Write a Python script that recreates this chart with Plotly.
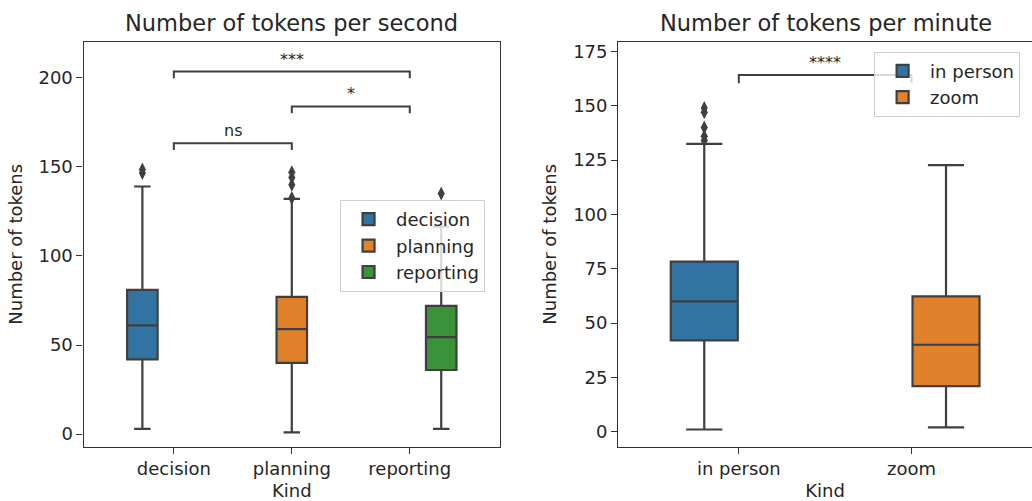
import plotly.graph_objects as go

# ---------------- data ----------------
kinds1 = ["decision", "planning", "reporting"]
lowfence1 = [3, 1, 3]
q1_1 = [42, 40, 36]
med1 = [61, 59, 54.5]
q3_1 = [81, 77, 72]
upfence1 = [139, 132, 116.5]
outliers1 = [[146.5, 148.5], [132.5, 140, 144, 147], [135]]

kinds2 = ["in person", "zoom"]
lowfence2 = [1, 2]
q1_2 = [42, 21]
med2 = [60, 40]
q3_2 = [78.3, 62.3]
upfence2 = [132.5, 122.7]
outliers2 = [[134, 136, 140, 147, 149], []]

pairs1 = [("decision", "planning", "ns"), ("planning", "reporting", "*"), ("decision", "reporting", "***")]
levels1 = [163.3, 183.9, 203.5]
pairs2 = [("in person", "zoom", "****")]
levels2 = [164.2]

ticks1 = [0, 50, 100, 150, 200]
ticks2 = [0, 25, 50, 75, 100, 125, 150, 175]

palette = ["#3274a1", "#e1812c", "#3a923a"]
LINE = "#3f3f3f"
FONT = "DejaVu Sans"
FS = 18

fig = go.Figure()


def add_panel(kinds, lf, q1, med, q3, uf, outl, xa, ya, legend, pairs, levels, drop):
    n = len(kinds)
    sub = 0.8 / n
    for i, k in enumerate(kinds):
        pos = i + (i - (n - 1) / 2) * sub
        fig.add_trace(go.Box(
            x=[pos], q1=[q1[i]], median=[med[i]], q3=[q3[i]],
            lowerfence=[lf[i]], upperfence=[uf[i]],
            width=sub * 0.97, whiskerwidth=0.54,
            fillcolor=palette[i], line=dict(color=LINE, width=2.2),
            boxpoints=False, name=k, legend=legend,
            xaxis=xa, yaxis=ya, hoverinfo="skip"))
        if outl[i]:
            fig.add_trace(go.Scatter(
                x=[pos] * len(outl[i]), y=outl[i], mode="markers",
                marker=dict(symbol="diamond-tall", size=10, color=LINE,
                            line=dict(width=0)),
                showlegend=False, xaxis=xa, yaxis=ya, hoverinfo="skip"))
    for (a, b, txt), lev in zip(pairs, levels):
        xa_i, xb_i = kinds.index(a), kinds.index(b)
        fig.add_trace(go.Scatter(
            x=[xa_i, xa_i, xb_i, xb_i], y=[lev - drop, lev, lev, lev - drop],
            mode="lines", line=dict(color=LINE, width=2),
            showlegend=False, xaxis=xa, yaxis=ya, hoverinfo="skip"))
        fig.add_annotation(x=(xa_i + xb_i) / 2, y=lev, xref=xa, yref=ya,
                           text=txt, showarrow=False, yanchor="bottom", xanchor="center",
                           yshift=1, font=dict(family=FONT, size=16, color="#262626"))


add_panel(kinds1, lowfence1, q1_1, med1, q3_1, upfence1, outliers1,
          "x", "y", "legend", pairs1, levels1, 3.8)
add_panel(kinds2, lowfence2, q1_2, med2, q3_2, upfence2, outliers2,
          "x2", "y2", "legend2", pairs2, levels2, 3.8)

axis_common = dict(showgrid=False, zeroline=False, showline=True, linecolor="#333333",
                   linewidth=1.3, ticks="outside", ticklen=6, tickwidth=1.3,
                   tickcolor="#333333", automargin=False,
                   tickfont=dict(family=FONT, size=FS, color="#262626"),
                   title_font=dict(family=FONT, size=FS, color="#262626"))

fig.update_layout(
    width=1032, height=501,
    margin=dict(l=0, r=0, t=0, b=0, autoexpand=False),
    plot_bgcolor="white", paper_bgcolor="white",
    showlegend=True,
    xaxis=dict(domain=[0.0810, 0.4845], range=[-0.765, 2.765],
               tickvals=[0, 1, 2], ticktext=kinds1, mirror=True,
               title=dict(text="Kind", standoff=8), anchor="y", **axis_common),
    yaxis=dict(domain=[0.1085, 0.9162], range=[-7, 220.1], tickvals=ticks1,
               mirror=True, title=dict(text="Number of tokens", standoff=11),
               anchor="x", **axis_common),
    xaxis2=dict(domain=[0.5991, 1.0], range=[-0.698, 1.698],
                tickvals=[0, 1], ticktext=kinds2, mirror=True,
                title=dict(text="Kind", standoff=8), anchor="y2", **axis_common),
    yaxis2=dict(domain=[0.1085, 0.9162], range=[-6.9, 179.4], tickvals=ticks2,
                mirror=False, title=dict(text="Number of tokens", standoff=11),
                anchor="x2", **axis_common),
    legend=dict(x=0.3295, y=0.6008, xanchor="left", yanchor="top", itemwidth=45,
                bgcolor="rgba(255,255,255,0.8)", bordercolor="#d0d0d0", borderwidth=1,
                font=dict(family=FONT, size=FS, color="#262626"), tracegroupgap=0),
    legend2=dict(x=0.847, y=0.897, xanchor="left", yanchor="top", itemwidth=45,
                 bgcolor="rgba(255,255,255,0.8)", bordercolor="#d0d0d0", borderwidth=1,
                 font=dict(family=FONT, size=FS, color="#262626"), tracegroupgap=0),
)

fig.add_annotation(x=(0.0810 + 0.4845) / 2, y=1 - 23 / 501, xref="paper", yref="paper",
                   text="Number of tokens per second", showarrow=False,
                   xanchor="center", yanchor="middle",
                   font=dict(family=FONT, size=22.5, color="#262626"))
fig.add_annotation(x=(0.5991 + 1.0017) / 2, y=1 - 23 / 501, xref="paper", yref="paper",
                   text="Number of tokens per minute", showarrow=False,
                   xanchor="center", yanchor="middle",
                   font=dict(family=FONT, size=22.5, color="#262626"))

fig.write_html("out.html", config={"displayModeBar": False},
               post_script="document.body.style.margin='0px';document.body.style.padding='0px';")
